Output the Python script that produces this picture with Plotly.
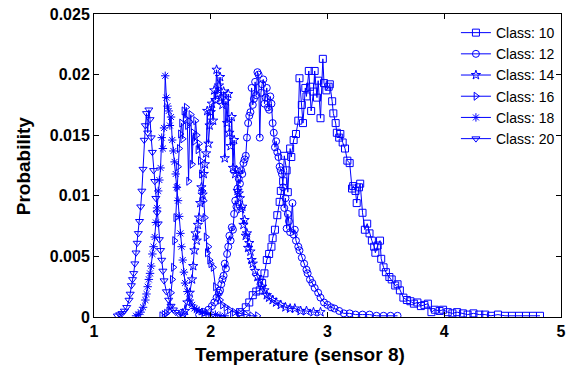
import plotly.graph_objects as go

# ---- data ----
x10 = [2.20, 2.25, 2.30, 2.33, 2.36, 2.39, 2.42, 2.44, 2.46, 2.48, 2.50, 2.52, 2.53, 2.55, 2.57, 2.59, 2.60, 2.62, 2.63, 2.65,
       2.66, 2.68, 2.69, 2.71, 2.73, 2.75, 2.76, 2.78, 2.79, 2.81, 2.82, 2.84, 2.85, 2.86, 2.88, 2.89, 2.91, 2.92, 2.94, 2.96,
       2.97, 2.99, 3.01, 3.02, 3.04, 3.05, 3.07, 3.08, 3.10, 3.11, 3.13, 3.15, 3.17, 3.19, 3.21, 3.22, 3.24, 3.25, 3.27, 3.28,
       3.30, 3.32, 3.34, 3.36, 3.38, 3.40, 3.41, 3.43, 3.45, 3.46, 3.48, 3.50, 3.53, 3.55, 3.58, 3.60, 3.62, 3.65, 3.68, 3.71,
       3.74, 3.77, 3.80, 3.83, 3.86, 3.89, 3.92, 3.96, 3.99, 4.03, 4.07, 4.11, 4.16, 4.20, 4.25, 4.30, 4.35, 4.40, 4.46, 4.52,
       4.58, 4.64, 4.70, 4.76, 4.82]
y10 = [0.0002, 0.0004, 0.0008, 0.0012, 0.0018, 0.0021, 0.0022, 0.0028, 0.0036, 0.0047, 0.0052, 0.0058, 0.0065, 0.0072, 0.0084, 0.0095, 0.0104, 0.0112, 0.0133, 0.0121,
       0.0103, 0.0139, 0.0132, 0.0146, 0.0151, 0.0162, 0.0197, 0.0175, 0.0160, 0.0189, 0.0182, 0.0203, 0.0190, 0.0170, 0.0186, 0.0203, 0.0181, 0.0195, 0.0164, 0.0213,
       0.0193, 0.0187, 0.0190, 0.0192, 0.0178, 0.0168, 0.0160, 0.0152, 0.0148, 0.0151, 0.0144, 0.0139, 0.0129, 0.0127, 0.0106, 0.0108, 0.0104, 0.0094, 0.0107, 0.0110,
       0.0086, 0.0072, 0.0077, 0.0069, 0.0063, 0.0058, 0.0053, 0.0059, 0.0063, 0.0048, 0.0041, 0.0037, 0.0033, 0.0031, 0.0026, 0.0027, 0.0022, 0.0016, 0.0014, 0.0013,
       0.0011, 0.0012, 0.0009, 0.0010, 0.0011, 0.0004, 0.0006, 0.0005, 0.0006, 0.0004, 0.0003, 0.0004, 0.0003, 0.0002, 0.0003, 0.0002, 0.0002, 0.0001, 0.0002, 0.0001,
       0.0001, 0.0001, 0.0001, 0.0001, 0.0001]

x12 = [1.90, 1.94, 1.98, 2.01, 2.03, 2.05, 2.07, 2.08, 2.09, 2.10, 2.11, 2.12, 2.13, 2.14, 2.15, 2.16, 2.17, 2.18, 2.19, 2.20,
       2.21, 2.22, 2.23, 2.24, 2.25, 2.26, 2.27, 2.28, 2.29, 2.30, 2.31, 2.32, 2.33, 2.34, 2.35, 2.36, 2.37, 2.38, 2.39, 2.40,
       2.41, 2.42, 2.43, 2.44, 2.45, 2.46, 2.47, 2.48, 2.49, 2.50, 2.51, 2.52, 2.53, 2.54, 2.55, 2.56, 2.57, 2.58, 2.59, 2.60,
       2.61, 2.62, 2.63, 2.64, 2.65, 2.66, 2.67, 2.68, 2.70, 2.71, 2.72, 2.73, 2.75, 2.76, 2.78, 2.80, 2.82, 2.83, 2.85, 2.87,
       2.89, 2.92, 2.94, 2.97, 3.00, 3.03, 3.06, 3.10, 3.14, 3.19, 3.24, 3.30, 3.36, 3.42, 3.48, 3.54, 3.60]
y12 = [0.0002, 0.0004, 0.0006, 0.0009, 0.0012, 0.0016, 0.0020, 0.0022, 0.0027, 0.0031, 0.0034, 0.0044, 0.0040, 0.0052, 0.0058, 0.0067, 0.0063, 0.0074, 0.0072, 0.0085,
       0.0096, 0.0091, 0.0106, 0.0114, 0.0110, 0.0121, 0.0118, 0.0127, 0.0130, 0.0133, 0.0148, 0.0160, 0.0166, 0.0169, 0.0189, 0.0175, 0.0180, 0.0194, 0.0183, 0.0202,
       0.0200, 0.0148, 0.0185, 0.0192, 0.0196, 0.0176, 0.0181, 0.0189, 0.0173, 0.0171, 0.0182, 0.0176, 0.0160, 0.0152, 0.0140, 0.0145, 0.0136, 0.0132, 0.0124, 0.0121,
       0.0118, 0.0107, 0.0090, 0.0098, 0.0073, 0.0085, 0.0079, 0.0070, 0.0094, 0.0068, 0.0072, 0.0063, 0.0058, 0.0055, 0.0049, 0.0044, 0.0039, 0.0036, 0.0031, 0.0028,
       0.0024, 0.0020, 0.0016, 0.0012, 0.0010, 0.0008, 0.0007, 0.0005, 0.0003, 0.0003, 0.0002, 0.0002, 0.0002, 0.0001, 0.0001, 0.0001, 0.0001]

x14 = [1.76, 1.78, 1.80, 1.82, 1.84, 1.85, 1.86, 1.87, 1.88, 1.89, 1.90, 1.91, 1.92, 1.93, 1.94, 1.95, 1.96, 1.97, 1.98, 1.99,
       2.00, 2.01, 2.02, 2.03, 2.04, 2.05, 2.06, 2.07, 2.08, 2.09, 2.10, 2.11, 2.12, 2.13, 2.14, 2.15, 2.16, 2.17, 2.18, 2.19,
       2.20, 2.21, 2.22, 2.23, 2.24, 2.25, 2.26, 2.27, 2.28, 2.29, 2.30, 2.31, 2.32, 2.33, 2.34, 2.35, 2.36, 2.38, 2.40, 2.42,
       2.44, 2.46, 2.48, 2.50, 2.53, 2.56, 2.60, 2.64, 2.68, 2.72, 2.77, 2.82, 2.88, 2.94]
y14 = [0.0003, 0.0005, 0.0012, 0.0020, 0.0031, 0.0042, 0.0055, 0.0069, 0.0063, 0.0076, 0.0082, 0.0094, 0.0107, 0.0101, 0.0118, 0.0126, 0.0135, 0.0170, 0.0143, 0.0158,
       0.0169, 0.0176, 0.0162, 0.0187, 0.0179, 0.0204, 0.0184, 0.0191, 0.0198, 0.0181, 0.0175, 0.0186, 0.0131, 0.0178, 0.0160, 0.0184, 0.0152, 0.0141, 0.0165, 0.0123,
       0.0146, 0.0118, 0.0121, 0.0104, 0.0102, 0.0098, 0.0089, 0.0091, 0.0076, 0.0080, 0.0067, 0.0069, 0.0057, 0.0061, 0.0054, 0.0047, 0.0044, 0.0038, 0.0033, 0.0030,
       0.0025, 0.0022, 0.0018, 0.0016, 0.0014, 0.0012, 0.0010, 0.0008, 0.0007, 0.0007, 0.0005, 0.0005, 0.0004, 0.0004]

x16 = [1.58, 1.60, 1.62, 1.64, 1.65, 1.66, 1.67, 1.68, 1.69, 1.70, 1.71, 1.72, 1.73, 1.74, 1.75, 1.76, 1.77, 1.78, 1.79, 1.80,
       1.81, 1.82, 1.83, 1.84, 1.85, 1.86, 1.87, 1.88, 1.89, 1.90, 1.91, 1.92, 1.93, 1.94, 1.95, 1.96, 1.97, 1.98, 1.99, 2.00,
       2.02, 2.04, 2.06, 2.08, 2.10, 2.13, 2.16, 2.20, 2.25, 2.30, 2.35, 2.40]
y16 = [0.0001, 0.0002, 0.0003, 0.0005, 0.0009, 0.0020, 0.0031, 0.0041, 0.0063, 0.0082, 0.0107, 0.0124, 0.0139, 0.0151, 0.0160, 0.0147, 0.0170, 0.0164, 0.0173, 0.0158,
       0.0112, 0.0161, 0.0167, 0.0126, 0.0152, 0.0145, 0.0162, 0.0150, 0.0138, 0.0143, 0.0129, 0.0118, 0.0104, 0.0096, 0.0082, 0.0066, 0.0053, 0.0058, 0.0047, 0.0044,
       0.0041, 0.0025, 0.0019, 0.0014, 0.0010, 0.0008, 0.0006, 0.0004, 0.0003, 0.0002, 0.0001, 0.0001]

x18 = [1.36, 1.38, 1.40, 1.42, 1.44, 1.45, 1.46, 1.47, 1.48, 1.49, 1.50, 1.51, 1.52, 1.53, 1.54, 1.55, 1.56, 1.57, 1.58, 1.59,
       1.60, 1.61, 1.62, 1.63, 1.64, 1.65, 1.66, 1.67, 1.68, 1.69, 1.70, 1.71, 1.72, 1.73, 1.74, 1.75, 1.76, 1.77, 1.78, 1.80,
       1.82, 1.84, 1.86, 1.88, 1.90, 1.93, 1.96, 2.00, 2.04, 2.08, 2.12]
y18 = [0.0001, 0.0002, 0.0004, 0.0008, 0.0014, 0.0019, 0.0025, 0.0031, 0.0036, 0.0042, 0.0052, 0.0058, 0.0066, 0.0078, 0.0090, 0.0104, 0.0113, 0.0123, 0.0148, 0.0139,
       0.0156, 0.0199, 0.0181, 0.0174, 0.0170, 0.0158, 0.0165, 0.0146, 0.0137, 0.0128, 0.0118, 0.0107, 0.0096, 0.0083, 0.0069, 0.0058, 0.0047, 0.0037, 0.0028, 0.0021,
       0.0014, 0.0010, 0.0007, 0.0006, 0.0005, 0.0004, 0.0003, 0.0002, 0.0002, 0.0001, 0.0001]

x20 = [1.20, 1.22, 1.24, 1.26, 1.28, 1.30, 1.31, 1.32, 1.33, 1.34, 1.35, 1.36, 1.37, 1.38, 1.39, 1.40, 1.41, 1.42, 1.43, 1.44,
       1.45, 1.46, 1.47, 1.48, 1.49, 1.50, 1.51, 1.52, 1.53, 1.54, 1.55, 1.56, 1.57, 1.58, 1.59, 1.60, 1.62, 1.64, 1.66, 1.68,
       1.70, 1.73, 1.76]
y20 = [0.0001, 0.0002, 0.0003, 0.0005, 0.0008, 0.0014, 0.0019, 0.0026, 0.0031, 0.0036, 0.0044, 0.0053, 0.0061, 0.0069, 0.0079, 0.0091, 0.0104, 0.0122, 0.0146, 0.0158,
       0.0168, 0.0152, 0.0171, 0.0163, 0.0148, 0.0136, 0.0121, 0.0112, 0.0098, 0.0086, 0.0077, 0.0064, 0.0055, 0.0047, 0.0038, 0.0030, 0.0021, 0.0014, 0.0009, 0.0006,
       0.0004, 0.0002, 0.0001]

series_names = ["Class: 10", "Class: 12", "Class: 14", "Class: 16", "Class: 18", "Class: 20"]
series_x = [x10, x12, x14, x16, x18, x20]
series_y = [y10, y12, y14, y16, y18, y20]
symbols = ["square-open", "circle-open", "star-open", "triangle-right-open", "asterisk-open", "triangle-down-open"]

x_ticks = [1, 2, 3, 4, 5]
y_ticks = [0, 0.005, 0.01, 0.015, 0.02, 0.025]
y_ticktext = ["0", "0.005", "0.01", "0.015", "0.02", "0.025"]

x_title = "Temperature (sensor 8)"
y_title = "Probability"

BLUE = "#0000ff"
FONT = "Liberation Sans, Arial, Helvetica, sans-serif"

fig = go.Figure()
for name, xs, ys, sym in zip(series_names, series_x, series_y, symbols):
    fig.add_trace(go.Scatter(
        x=xs, y=ys, name=name, mode="lines+markers",
        line=dict(color=BLUE, width=1),
        marker=dict(symbol=sym, size=7, color=BLUE, line=dict(color=BLUE, width=1)),
    ))

fig.update_layout(
    width=572, height=372,
    margin=dict(l=94, r=6, t=13, b=55),
    paper_bgcolor="white", plot_bgcolor="white",
    font=dict(family=FONT, color="black"),
    showlegend=True,
    legend=dict(
        x=0.775, y=0.99, xanchor="left", yanchor="top",
        bgcolor="rgba(255,255,255,0)", borderwidth=0,
        font=dict(family=FONT, size=14, color="black"),
        itemwidth=30, tracegroupgap=0,
    ),
    annotations=[
        dict(text="<b>" + x_title + "</b>", xref="paper", yref="paper",
             x=(302 - 94) / 472, y=-(355 - 317) / 304, xanchor="center", yanchor="middle",
             showarrow=False, font=dict(family=FONT, size=19, color="black")),
        dict(text="<b>" + y_title + "</b>", xref="paper", yref="paper",
             x=-(94 - 23) / 472, y=0.5, xanchor="center", yanchor="middle", textangle=-90,
             showarrow=False, font=dict(family=FONT, size=19, color="black")),
    ],
)
fig.update_xaxes(
    range=[1, 5], tickvals=x_ticks, ticktext=[str(v) for v in x_ticks],
    showgrid=False, zeroline=False,
    showline=True, linecolor="black", linewidth=1, mirror="ticks",
    ticks="inside", ticklen=5, tickcolor="black",
    tickfont=dict(family=FONT, size=16, color="black", weight="bold"),
)
fig.update_yaxes(
    range=[0, 0.025], tickvals=y_ticks, ticktext=y_ticktext,
    showgrid=False, zeroline=False,
    showline=True, linecolor="black", linewidth=1, mirror="ticks",
    ticks="inside", ticklen=5, tickcolor="black",
    tickfont=dict(family=FONT, size=16, color="black", weight="bold"),
)

fig.write_html("out.html")
